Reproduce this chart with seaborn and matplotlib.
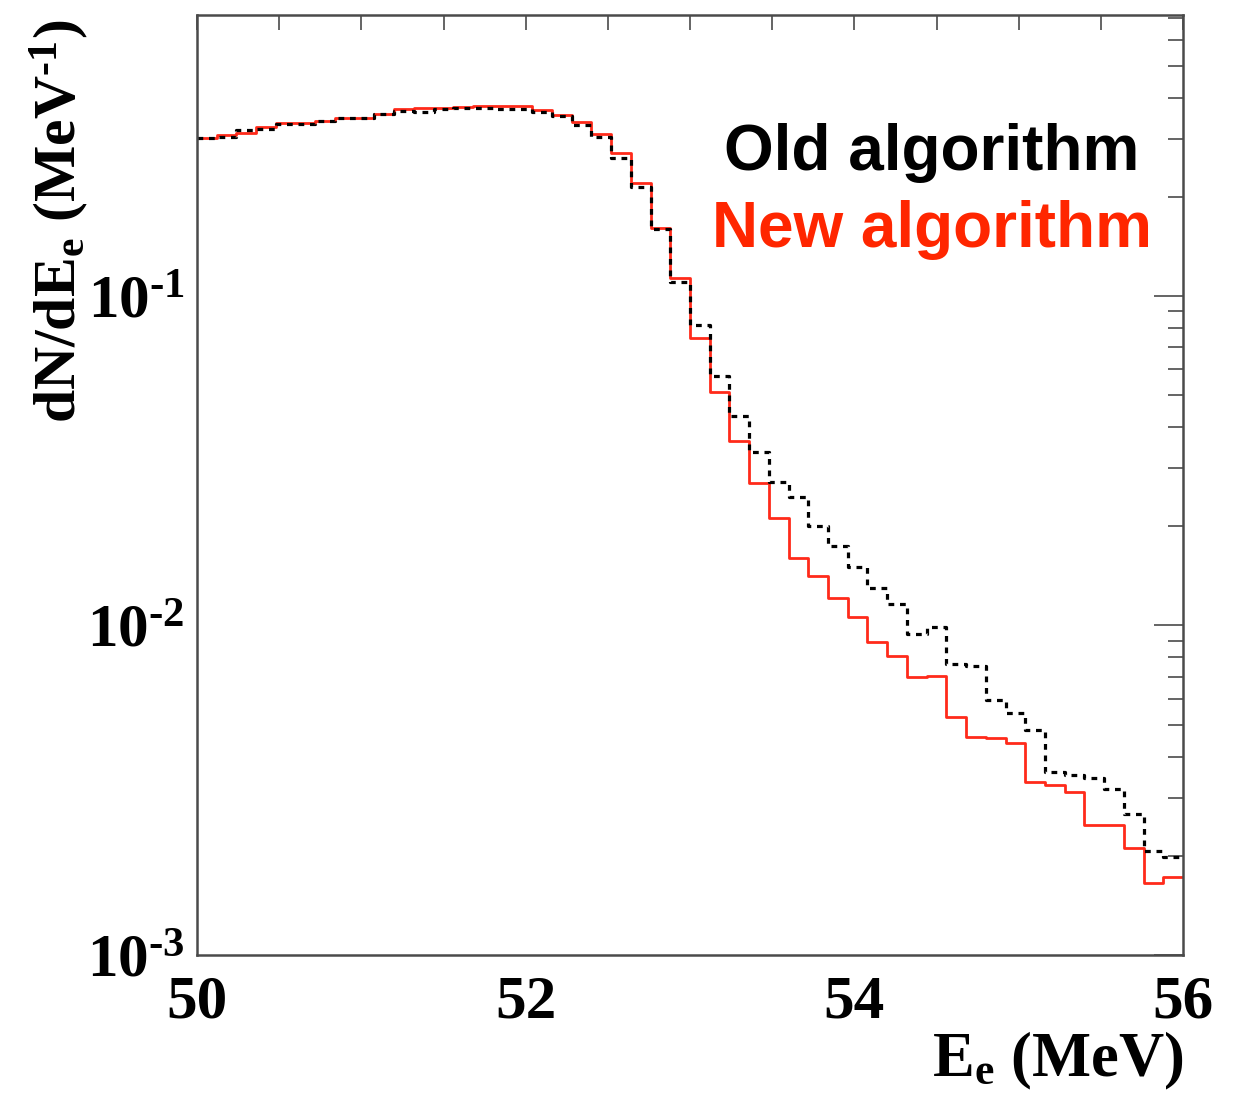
import numpy as np
import pandas as pd
import matplotlib
matplotlib.use("Agg")
import matplotlib.pyplot as plt
import seaborn as sns
from matplotlib.ticker import FixedLocator, MultipleLocator, NullFormatter

# ---------------- data ----------------
e_min, e_max, n_bins = 50.0, 56.0, 50

old_algo = [0.3016, 0.3038, 0.3190, 0.3212, 0.3315, 0.3323, 0.3388, 0.3469, 0.3460, 0.3567,
            0.3643, 0.3605, 0.3694, 0.3720, 0.3720, 0.3694, 0.3694, 0.3630, 0.3518, 0.3292,
            0.3038, 0.2623, 0.2147, 0.1594, 0.1105, 0.0817, 0.0572, 0.0432, 0.0337, 0.0273,
            0.0246, 0.0201, 0.01743, 0.01509, 0.01297, 0.01162, 0.00942, 0.00992, 0.00764, 0.00752,
            0.00594, 0.00541, 0.00482, 0.00358, 0.00352, 0.00345, 0.00320, 0.00268, 0.00207, 0.00199]

new_algo = [0.3016, 0.3074, 0.3124, 0.3257, 0.3342, 0.3342, 0.3397, 0.3469, 0.3460, 0.3567,
            0.3694, 0.3710, 0.3728, 0.3754, 0.3772, 0.3772, 0.3772, 0.3668, 0.3554, 0.3374,
            0.3103, 0.2711, 0.2208, 0.1605, 0.1132, 0.0748, 0.0512, 0.0364, 0.0271, 0.02114,
            0.01599, 0.01418, 0.01212, 0.01063, 0.00893, 0.00808, 0.00699, 0.00702, 0.00526, 0.00459,
            0.00456, 0.00440, 0.00335, 0.00328, 0.00312, 0.00248, 0.00248, 0.00211, 0.00165, 0.00173]

x_ticks = [50, 52, 54, 56]
x_tick_labels = ["50", "52", "54", "56"]
y_ticks = [1e-3, 1e-2, 1e-1]
y_tick_labels = [r"$10^{\text{-}3}$", r"$10^{\text{-}2}$", r"$10^{\text{-}1}$"]
y_limits = (1e-3, 0.7125)
legend_labels = ["Old algorithm", "New algorithm"]
x_label = r"E$_{e}$ (MeV)"
y_label = r"dN/dE$_{e}$ (MeV$^{\text{-}1}$)"

# ---------------- style ----------------
sns.set_style("white")
plt.rcParams["font.family"] = ["Liberation Serif", "DejaVu Serif"]
plt.rcParams["font.weight"] = "bold"
plt.rcParams["text.color"] = "black"
plt.rcParams["mathtext.fontset"] = "custom"
plt.rcParams["mathtext.rm"] = "Liberation Serif:bold"
plt.rcParams["mathtext.it"] = "Liberation Serif:bold"
plt.rcParams["mathtext.bf"] = "Liberation Serif:bold"
plt.rcParams["mathtext.default"] = "rm"

red = "#ff2a1a"
frame = "#4a4a4a"

fig = plt.figure(figsize=(12.38, 10.94), dpi=100)
fig.patch.set_facecolor("white")
ax = fig.add_axes([197 / 1238, 1 - 955 / 1094, 986 / 1238, 940 / 1094])

edges = np.linspace(e_min, e_max, n_bins + 1)
centers = 0.5 * (edges[:-1] + edges[1:])
df_new = pd.DataFrame({"E": centers, "w": new_algo})
df_old = pd.DataFrame({"E": centers, "w": old_algo})

sns.histplot(data=df_new, x="E", weights="w", bins=list(edges), element="step", fill=False,
             color=red, linewidth=2.0, ax=ax)
sns.histplot(data=df_old, x="E", weights="w", bins=list(edges), element="step", fill=False,
             color="black", linewidth=2.3, linestyle=(0, (1.8, 1.8)), ax=ax)

ax.set_yscale("log")
ax.set_xlim(e_min, e_max)
ax.set_ylim(*y_limits)

ax.xaxis.set_major_locator(FixedLocator(x_ticks))
ax.set_xticklabels(x_tick_labels)
ax.xaxis.set_minor_locator(MultipleLocator(0.5))
ax.yaxis.set_major_locator(FixedLocator(y_ticks))
ax.set_yticklabels(y_tick_labels)
minor_y = [m * d for d in (1e-3, 1e-2, 1e-1) for m in range(2, 10) if m * d < y_limits[1]]
ax.yaxis.set_minor_locator(FixedLocator(minor_y))
ax.yaxis.set_minor_formatter(NullFormatter())

for s in ax.spines.values():
    s.set_color(frame)
    s.set_linewidth(1.8)

ax.tick_params(axis="both", which="both", direction="in", top=True, right=True,
               color=frame, width=1.2, labelsize=44, labelcolor="black")
ax.tick_params(axis="x", which="both", length=10.8, pad=14)
ax.tick_params(axis="y", which="major", length=21, pad=9)
ax.tick_params(axis="y", which="minor", length=10.8)
for lab in ax.get_xticklabels() + ax.get_yticklabels():
    lab.set_fontweight("bold")

ax.set_xlabel("")
ax.set_ylabel("")
ax.text(1.0, -0.08, x_label, transform=ax.transAxes, ha="right", va="top",
        fontsize=45, fontweight="bold", color="black")
ax.text(-0.14, 0.995, y_label, transform=ax.transAxes, ha="center", va="top",
        rotation=90, fontsize=43, fontweight="bold", color="black")

ax.text(0.745, 0.853, legend_labels[0], transform=ax.transAxes, ha="center", va="center",
        fontsize=46, fontweight="bold", color="black", family=["Liberation Sans", "DejaVu Sans"])
ax.text(0.745, 0.771, legend_labels[1], transform=ax.transAxes, ha="center", va="center",
        fontsize=46, fontweight="bold", color="#ff2600", family=["Liberation Sans", "DejaVu Sans"])

fig.savefig("out.png", dpi=100, facecolor="white")
